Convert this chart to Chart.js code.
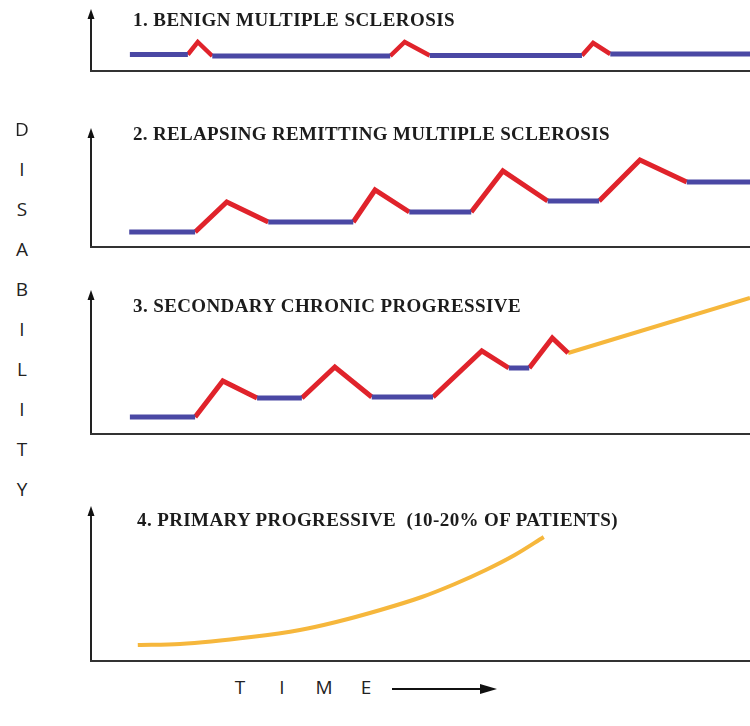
<!DOCTYPE html>
<html>
<head>
<meta charset="utf-8">
<script src="https://cdn.jsdelivr.net/npm/chart.js@4.4.0/dist/chart.umd.min.js"></script>
<style>
  body { margin: 0; background: #fff; }
  #page { position: relative; width: 750px; height: 726px; background: #fff; overflow: hidden; }
  .panel { position: absolute; left: 80px; }
  .ttl { position: absolute; left: 133px; font-family: "Liberation Serif", "Times New Roman", serif; font-weight: bold;
         font-size: 19px; color: #1c1c1c; white-space: pre; line-height: 1; }
  .ylet { position: absolute; left: 8px; width: 28px; text-align: center; font-family: "Open Sans", sans-serif;
          font-size: 19px; color: #222; line-height: 1; }
  .xlet { position: absolute; top: 678px; width: 42px; text-align: center; font-family: "Open Sans", sans-serif;
          font-size: 19px; color: #222; line-height: 1; }
</style>
</head>
<body>
<div id="page">
  <canvas id="p1" class="panel"></canvas>
  <canvas id="p2" class="panel"></canvas>
  <canvas id="p3" class="panel"></canvas>
  <canvas id="p4" class="panel"></canvas>

  <div class="ttl" style="top:10px" data-w="322">1. BENIGN MULTIPLE SCLEROSIS</div>
  <div class="ttl" style="top:124px" data-w="477">2. RELAPSING REMITTING MULTIPLE SCLEROSIS</div>
  <div class="ttl" style="top:296px" data-w="388">3. SECONDARY CHRONIC PROGRESSIVE</div>
  <div class="ttl" style="top:510px;left:137px" data-w="481">4. PRIMARY PROGRESSIVE  (10-20% OF PATIENTS)</div>

  <div id="ylabel"></div>
  <div id="xlabel"></div>
  <svg style="position:absolute;left:388px;top:680px" width="115" height="18">
    <line x1="4" y1="9" x2="96" y2="9" stroke="#111" stroke-width="2"/>
    <polygon points="92,4 109,9 92,14" fill="#111"/>
  </svg>
</div>

<script>
// time runs 0..100 across each panel, disability in arbitrary units above the axis
// null = break in the line

const yLetters = ['D', 'I', 'S', 'A', 'B', 'I', 'L', 'I', 'T', 'Y'];
const xLetters = ['T', 'I', 'M', 'E'];

// 1. benign
const benignRemission = [[5.9, 1.65], [14.7, 1.65], null, [18.4, 1.5], [45.4, 1.5], null,
                         [51.4, 1.55], [74.5, 1.55], null, [78.8, 1.7], [100, 1.7]];
const benignRelapse = [[14.7, 1.65], [16.2, 2.9], [18.4, 1.5], null,
                       [45.4, 1.5], [47.6, 2.9], [51.4, 1.55], null,
                       [74.5, 1.55], [76.2, 2.8], [78.8, 1.7]];

// 2. relapsing remitting
const rrRemission = [[5.8, 1.5], [15.8, 1.5], null, [26.9, 2.5], [39.8, 2.5], null,
                     [48.3, 3.5], [57.7, 3.5], null, [69.3, 4.6], [77.1, 4.6], null,
                     [90.4, 6.5], [100, 6.5]];
const rrRelapse = [[15.8, 1.5], [20.6, 4.5], [26.9, 2.5], null,
                   [39.8, 2.5], [43.1, 5.7], [48.3, 3.5], null,
                   [57.7, 3.5], [62.5, 7.6], [69.3, 4.6], null,
                   [77.1, 4.6], [83.3, 8.7], [90.4, 6.5]];

// 3. secondary chronic progressive
const scpRemission = [[5.9, 1.7], [15.8, 1.7], null, [25.2, 3.6], [32.0, 3.6], null,
                      [42.6, 3.7], [51.9, 3.7], null, [63.4, 6.6], [66.5, 6.6]];
const scpRelapse = [[15.8, 1.7], [20.0, 5.3], [25.2, 3.6], null,
                    [32.0, 3.6], [37.0, 6.7], [42.6, 3.7], null,
                    [51.9, 3.7], [59.3, 8.3], [63.4, 6.6], null,
                    [66.5, 6.6], [70.0, 9.6], [72.4, 8.1]];
const scpProgression = [[72.4, 8.1], [100, 13.6]];

// 4. primary progressive
const ppProgression = [[7.1, 1.6], [13.5, 1.7], [24.3, 2.4], [31.7, 3.1], [37.2, 3.9], [43.9, 5.1],
                       [50.2, 6.4], [55.2, 7.7], [59.9, 9.1], [64.3, 10.6], [68.7, 12.4]];

// panel geometry on the page: arrow tip y, axis y
const panels = [
  { id: 'p1', tip: 9, axis: 71 },
  { id: 'p2', tip: 128, axis: 247 },
  { id: 'p3', tip: 290, axis: 434 },
  { id: 'p4', tip: 506, axis: 661 }
];

const BLUE = '#4a48a4';
const RED = '#e0232b';
const ORANGE = '#f6b73c';

function pts(arr) {
  return arr.map(function (p) { return p ? { x: p[0], y: p[1] } : { x: null, y: null }; });
}

function serie(arr, color, w) {
  return {
    data: pts(arr),
    borderColor: color,
    borderWidth: w,
    pointRadius: 0,
    fill: false,
    tension: 0,
    spanGaps: false,
    borderCapStyle: 'butt',
    borderJoinStyle: 'miter',
    clip: false
  };
}

const axisPlugin = {
  id: 'axisArrows',
  beforeDatasetsDraw(chart) {
    const a = chart.chartArea;
    const ctx = chart.ctx;
    ctx.save();
    ctx.strokeStyle = '#222';
    ctx.fillStyle = '#111';
    ctx.lineWidth = 2;
    ctx.beginPath();
    ctx.moveTo(a.left, a.bottom);
    ctx.lineTo(a.left, a.top + 6);
    ctx.stroke();
    ctx.beginPath();
    ctx.moveTo(a.left, a.top);
    ctx.lineTo(a.left - 3.5, a.top + 10);
    ctx.lineTo(a.left + 3.5, a.top + 10);
    ctx.closePath();
    ctx.fill();
    ctx.strokeStyle = '#333';
    ctx.beginPath();
    ctx.moveTo(a.left - 1, a.bottom);
    ctx.lineTo(a.right, a.bottom);
    ctx.stroke();
    ctx.restore();
  }
};

function makePanel(p, datasets) {
  const cv = document.getElementById(p.id);
  const h = p.axis - p.tip + 10;
  cv.width = 670;
  cv.height = h;
  cv.style.top = (p.tip - 5) + 'px';
  cv.style.width = '670px';
  cv.style.height = h + 'px';
  new Chart(cv, {
    type: 'line',
    data: { datasets: datasets },
    options: {
      responsive: false,
      animation: false,
      devicePixelRatio: 1,
      layout: { padding: { left: 11, right: 0, top: 5, bottom: 5 } },
      plugins: { legend: { display: false }, tooltip: { enabled: false } },
      scales: {
        x: { type: 'linear', min: 0, max: 100, display: false },
        y: { min: 0, max: (p.axis - p.tip) / 10, display: false }
      }
    },
    plugins: [axisPlugin]
  });
}

makePanel(panels[0], [serie(benignRemission, BLUE, 5), serie(benignRelapse, RED, 4.5)]);
makePanel(panels[1], [serie(rrRemission, BLUE, 5), serie(rrRelapse, RED, 5)]);
makePanel(panels[2], [serie(scpRemission, BLUE, 5), serie(scpRelapse, RED, 5), serie(scpProgression, ORANGE, 4)]);
const pp = serie(ppProgression, ORANGE, 4);
pp.cubicInterpolationMode = 'monotone';
makePanel(panels[3], [pp]);

// stretch each panel title to the width it has in the picture
document.querySelectorAll('.ttl').forEach(function (el) {
  const want = +el.dataset.w;
  const have = el.getBoundingClientRect().width;
  const n = el.textContent.length;
  el.style.letterSpacing = ((want - have) / n).toFixed(2) + 'px';
});

// letters of DISABILITY down the left side
const yl = document.getElementById('ylabel');
yLetters.forEach(function (c, i) {
  const d = document.createElement('div');
  d.className = 'ylet';
  d.textContent = c;
  d.style.top = (120 + i * 40) + 'px';
  yl.appendChild(d);
});
const xl = document.getElementById('xlabel');
xLetters.forEach(function (c, i) {
  const d = document.createElement('div');
  d.className = 'xlet';
  d.textContent = c;
  d.style.left = (219 + i * 42) + 'px';
  xl.appendChild(d);
});
</script>
</body>
</html>
